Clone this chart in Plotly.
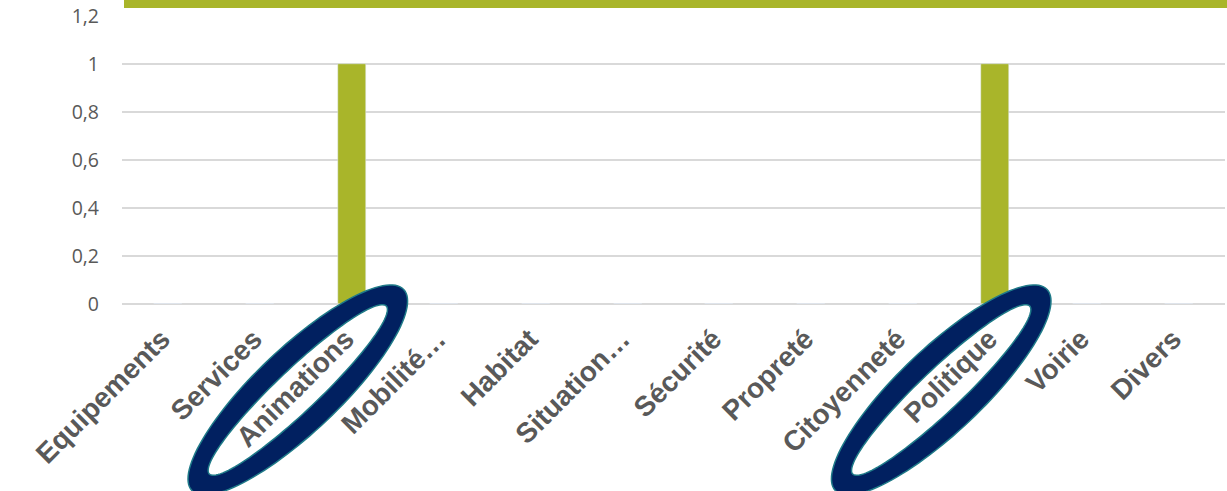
import numpy as np
import plotly.graph_objects as go

# Thèmes et nombre de mentions
categories = ["Equipements", "Services", "Animations", "Mobilité…", "Habitat",
              "Situation…", "Sécurité", "Propreté", "Citoyenneté", "Politique",
              "Voirie", "Divers"]
values = [0, 0, 1, 0, 0, 0, 0, 0, 0, 1, 0, 0]
y_ticks = [0, 0.2, 0.4, 0.6, 0.8, 1.0, 1.2]
y_tick_text = ["0", "0,2", "0,4", "0,6", "0,8", "1", "1,2"]
highlighted = ["Animations", "Politique"]

GREEN = "#A9B52A"
NAVY = "#012060"
TEAL = "#1F7A88"
GRID = "#D9D9D9"
TEXT = "#595959"

W, H = 1227, 491
ML, MR, MT, MB = 122, 2, 16, 187
PW, PH = W - ML - MR, H - MT - MB
Y_MAX = 1.2

fig = go.Figure(go.Bar(
    x=categories, y=values, marker_color=GREEN, width=0.305,
    hoverinfo="x+y",
))


def ring_path(cx_px, cy_px, a_out, b_out, a_in, b_in, ang_deg, n=120):
    """Rotated elliptical ring as an SVG path, in paper coordinates."""
    th = np.radians(ang_deg)

    def pts(a, b, ts):
        out = []
        for t in ts:
            px = cx_px + a * np.cos(t) * np.cos(th) - b * np.sin(t) * np.sin(th)
            py = cy_px - (a * np.cos(t) * np.sin(th) + b * np.sin(t) * np.cos(th))
            xp = (px - ML) / PW
            yp = (MT + PH - py) / PH
            out.append(f"{xp:.5f},{yp:.5f}")
        return out

    ts = np.linspace(0, 2 * np.pi, n, endpoint=False)
    outer = pts(a_out, b_out, ts)
    inner = pts(a_in, b_in, ts[::-1])
    return ("M" + " L".join(outer) + " Z M" + " L".join(inner) + " Z")


shapes = []
cat_w = PW / len(categories)
for name in highlighted:
    i = categories.index(name)
    cx = ML + (i + 0.5) * cat_w - 54
    cy = MT + PH + 86
    shapes.append(dict(
        type="path", xref="paper", yref="paper", layer="above",
        path=ring_path(cx, cy, 146, 42, 122, 21, 43.5),
        fillcolor=NAVY, line=dict(color=TEAL, width=1.5),
    ))

# bandeau vert en haut
shapes.append(dict(
    type="rect", xref="paper", yref="paper", layer="above",
    x0=(124 - ML) / PW, x1=1.01, y0=(MT + PH - 8) / PH, y1=(MT + PH + 2) / PH,
    fillcolor=GREEN, line=dict(width=0),
))

fig.update_layout(
    width=W, height=H,
    margin=dict(l=ML, r=MR, t=MT, b=MB, pad=0),
    paper_bgcolor="white", plot_bgcolor="white",
    showlegend=False,
    bargap=0,
    shapes=shapes,
    xaxis=dict(
        type="category", tickangle=-45, showgrid=False, showline=False,
        ticks="", zeroline=False, ticklabelstandoff=12, ticklabelshift=-6,
        tickfont=dict(family="Liberation Sans", size=28, color=TEXT, weight="bold"),
    ),
    yaxis=dict(
        range=[0, Y_MAX], tickvals=y_ticks, ticktext=y_tick_text,
        showgrid=True, gridcolor=GRID, gridwidth=2,
        zeroline=True, zerolinecolor=GRID, zerolinewidth=2,
        showline=False, ticks="", ticklabelstandoff=22,
        tickfont=dict(family="Open Sans", size=19.5, color=TEXT),
    ),
)

fig.write_html("out.html")
